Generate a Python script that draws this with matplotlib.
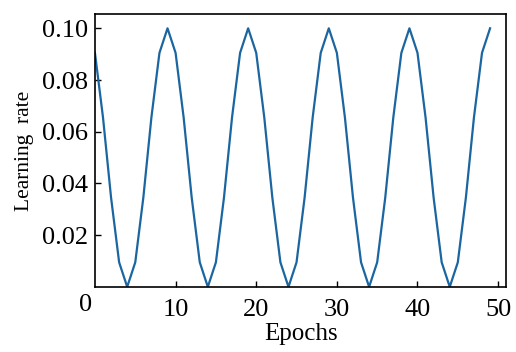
import matplotlib
matplotlib.use('Agg')
from matplotlib import pyplot as plt

# Datos (tasa de aprendizaje por epoca)
epocas = list(range(50))
tasa = [0.0905, 0.0655, 0.0345, 0.0095, 0.0000, 0.0095, 0.0345, 0.0655, 0.0905, 0.1000,
        0.0905, 0.0655, 0.0345, 0.0095, 0.0000, 0.0095, 0.0345, 0.0655, 0.0905, 0.1000,
        0.0905, 0.0655, 0.0345, 0.0095, 0.0000, 0.0095, 0.0345, 0.0655, 0.0905, 0.1000,
        0.0905, 0.0655, 0.0345, 0.0095, 0.0000, 0.0095, 0.0345, 0.0655, 0.0905, 0.1000,
        0.0905, 0.0655, 0.0345, 0.0095, 0.0000, 0.0095, 0.0345, 0.0655, 0.0905, 0.1000]
xticks = [10, 20, 30, 40, 50]
yticks = [0.02, 0.04, 0.06, 0.08, 0.10]

plt.rcParams['font.family'] = ['Liberation Serif', 'DejaVu Serif']

fig = plt.figure(figsize=(5.16, 3.52), dpi=100)
ax = fig.add_axes([0.184, 0.185, 0.797, 0.775])
ax.plot(epocas, tasa, color='#1b66a0', linewidth=1.6)

ax.set_xlim(0, 51)
ax.set_ylim(0, 0.1055)
ax.set_xticks(xticks)
ax.set_yticks(yticks)
ax.set_yticklabels(['%.2f' % v for v in yticks])
ax.tick_params(direction='in', length=4, width=1, labelsize=19)
ax.tick_params(axis='x', pad=9)
ax.tick_params(axis='y', pad=5)
for s in ax.spines.values():
    s.set_linewidth(1.2)

# el cero de la esquina
ax.text(-0.006, -0.025, '0', transform=ax.transAxes, fontsize=19,
        ha='right', va='top')

ax.set_xlabel('Epochs', fontsize=18, labelpad=1)
ax.set_ylabel('Learning  rate', fontsize=15.5, labelpad=6)

fig.savefig('out.png', dpi=100)
